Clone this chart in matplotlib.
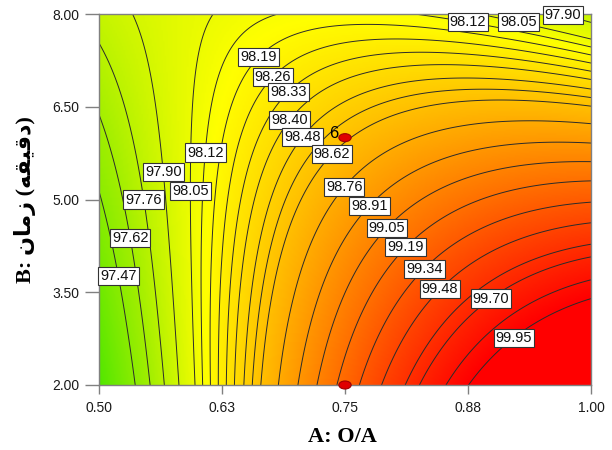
import numpy as np
import matplotlib.pyplot as plt
from matplotlib.colors import LinearSegmentedColormap, Normalize
from matplotlib.patches import Ellipse

plt.rcParams['font.family'] = ['Liberation Sans', 'DejaVu Sans']

# reduced cubic model in coded factors
# x = (A - 0.75) / 0.25, y = (B - 5) / 3
# terms: 1, x, y, xy, x^2, y^2, x^2 y, x y^2
coef_vals = [98.80, 0.934, -0.55, -0.826, -0.4125, -0.105, 0.0875, -0.105]

levels = [97.47, 97.62, 97.76, 97.90, 98.05, 98.12, 98.19, 98.26, 98.33,
          98.40, 98.48, 98.55, 98.62, 98.76, 98.91, 99.05, 99.19, 99.34,
          99.48, 99.62, 99.70, 99.84, 99.95]

# contour labels and where they sit
label_levels = [98.19, 98.26, 98.33, 98.40, 98.48, 98.62, 98.12, 97.90,
                98.05, 97.76, 97.62, 97.47, 98.76, 98.91, 99.05, 99.19,
                99.34, 99.48, 99.70, 99.95, 98.12, 98.05, 97.90]
label_A = [0.662, 0.679, 0.699, 0.702, 0.718, 0.752, 0.616, 0.572,
           0.600, 0.551, 0.535, 0.523, 0.762, 0.787, 0.803, 0.822,
           0.837, 0.851, 0.899, 0.916, 0.874, 0.925, 0.968]
label_B = [7.31, 6.93, 6.63, 6.19, 5.87, 5.50, 5.74, 5.45,
           5.14, 5.02, 4.38, 3.78, 5.02, 4.72, 4.38, 4.07,
           3.78, 3.49, 3.38, 2.89, 7.81, 7.77, 7.80]

# design points
design_A = [0.75, 0.75]
design_B = [6.0, 2.0]
design_reps = ['6', '']

a_ticks = [0.5, 0.625, 0.75, 0.875, 1.0]
a_ticklabels = ['0.50', '0.63', '0.75', '0.88', '1.00']
b_ticks = [2.0, 3.5, 5.0, 6.5, 8.0]
b_ticklabels = ['2.00', '3.50', '5.00', '6.50', '8.00']

# green -> yellow -> red ramp
cmap_vals = [97.05, 97.60, 98.15, 98.70, 99.20, 99.95]
cmap_cols = ['#4de600', '#a0ee00', '#ffff00', '#ffb400', '#ff6e00', '#ff0000']

A = np.linspace(0.5, 1.0, 301)
B = np.linspace(2.0, 8.0, 301)
AA, BB = np.meshgrid(A, B)
x = (AA - 0.75) / 0.25
y = (BB - 5.0) / 3.0
b0, b1, b2, b12, b11, b22, b112, b122 = coef_vals
Z = (b0 + b1 * x + b2 * y + b12 * x * y + b11 * x ** 2 + b22 * y ** 2
     + b112 * x ** 2 * y + b122 * x * y ** 2)

norm = Normalize(cmap_vals[0], cmap_vals[-1], clip=True)
stops = [(float(norm(v)), c) for v, c in zip(cmap_vals, cmap_cols)]
cmap = LinearSegmentedColormap.from_list('ramp', stops)

fig = plt.figure(figsize=(6.12, 4.5), dpi=100)
ax = fig.add_axes([99 / 612, 1 - 385 / 450, 492 / 612, 371 / 450])
ax.imshow(Z, extent=(0.5, 1.0, 2.0, 8.0), origin='lower', aspect='auto',
          cmap=cmap, norm=norm, interpolation='bilinear')
ax.set_xlim(0.5, 1.0)
ax.set_ylim(2.0, 8.0)
cs = ax.contour(AA, BB, Z, levels=levels, colors='#2b2b2b', linewidths=0.7)


def label_on(level, a, b):
    # put the value box on the nearest point of that level's line
    pts = np.vstack(cs.allsegs[levels.index(level)])
    disp = ax.transData.transform(pts)
    target = ax.transData.transform((a, b))
    k = np.argmin(((disp - target) ** 2).sum(axis=1))
    ax.text(pts[k, 0], pts[k, 1], f'{level:.2f}', ha='center', va='center',
            fontsize=10.5, color='#111111', zorder=6,
            bbox=dict(boxstyle='square,pad=0.14', fc='white', ec='#333333', lw=0.8))


for lev, a, b in zip(label_levels, label_A, label_B):
    label_on(lev, a, b)

for a, b, r in zip(design_A, design_B, design_reps):
    ax.add_patch(Ellipse((a, b), width=0.0125, height=0.13, fc='#e00000',
                         ec='#a00000', lw=0.8, clip_on=False, zorder=7))
    if r:
        ax.annotate(r, (a, b), xytext=(-8, 3), textcoords='offset points',
                    ha='center', va='center', fontsize=12, color='#000000')

ax.set_xticks(a_ticks, a_ticklabels)
ax.set_yticks(b_ticks, b_ticklabels)
ax.tick_params(axis='x', length=6.5, width=1, color='#808080', pad=5,
               labelsize=10, labelcolor='#1a1a1a')
ax.tick_params(axis='y', length=10, width=1, color='#808080', pad=4,
               labelsize=10, labelcolor='#1a1a1a')
for s in ax.spines.values():
    s.set_color('#808080')
    s.set_linewidth(1)

fig.text(342 / 612, 1 - 437 / 450, 'A: O/A', ha='center', va='center',
         fontsize=16, fontweight='bold', family=['Liberation Serif', 'DejaVu Sans'])
ylab = 'B: ' + '\uFEE5\uFE8E\uFEE3\uFEAF' + ' (' + '\uFEEA\uFED8\uFEF4\uFED7\uFEA9' + ')'
fig.text(25 / 612, 1 - 200 / 450, ylab, ha='center', va='center', rotation=90,
         fontsize=16, fontweight='bold', family=['Liberation Serif', 'DejaVu Sans'])

fig.savefig('out.png', dpi=100)
